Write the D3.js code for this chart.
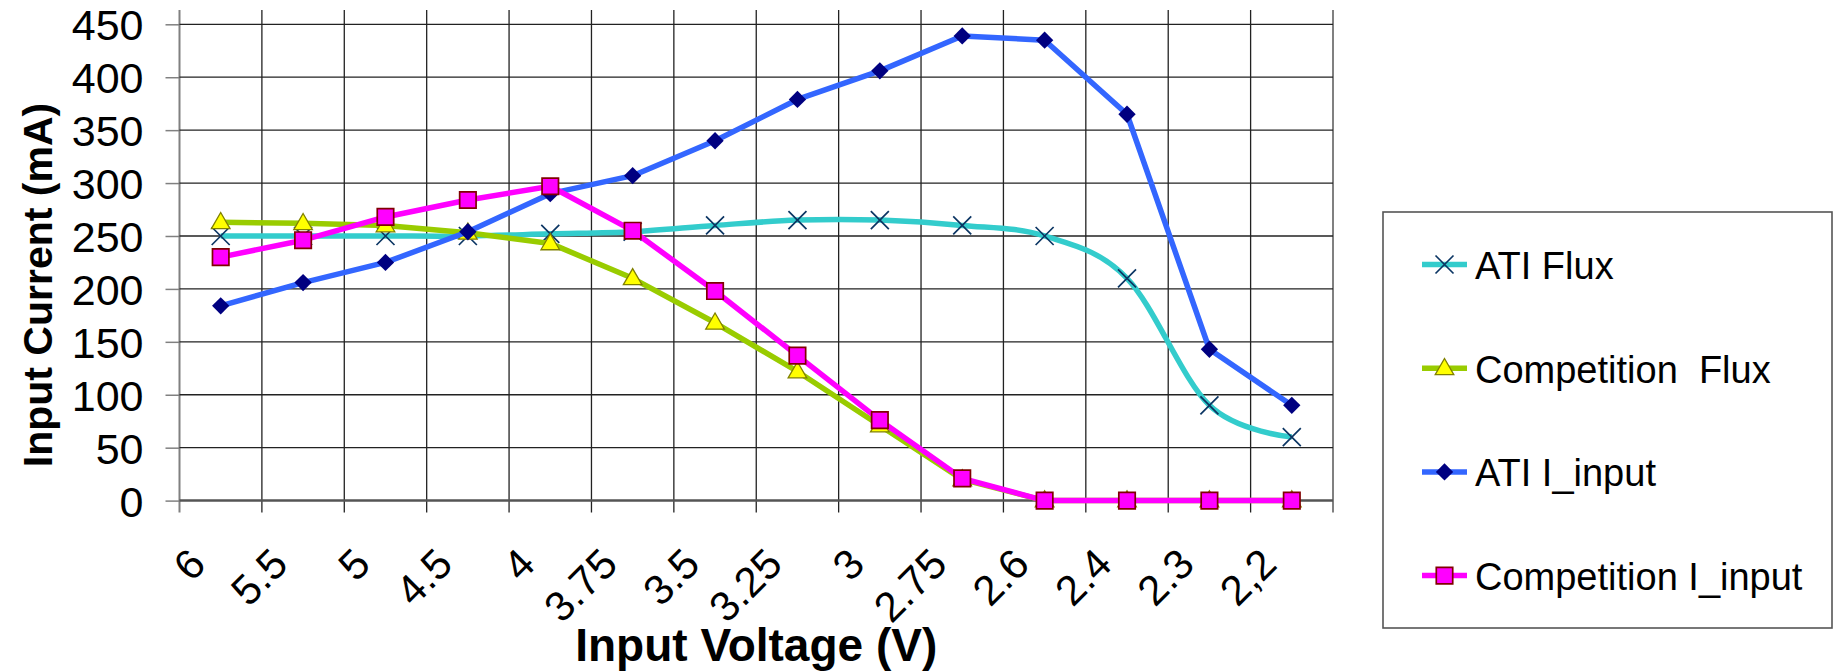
<!DOCTYPE html>
<html>
<head>
<meta charset="utf-8">
<script src="https://cdn.jsdelivr.net/npm/d3@7"></script>
<style>
  body { margin: 0; background: #fff; }
  svg { display: block; font-family: "Liberation Sans", Arial, sans-serif; }
</style>
</head>
<body>
<div id="chartContainer"></div>
<script>
// data
var categories = ["6", "5.5", "5", "4.5", "4", "3.75", "3.5", "3.25", "3", "2.75", "2.6", "2.4", "2.3", "2,2"];
var atiFlux = [250, 250, 250, 250, 252, 254, 260, 265, 265, 260, 250, 210, 90, 60];
var competitionFlux = [263, 262, 260, 253, 243, 210, 168, 122, 71, 20, 0, 0, 0, 0];
var atiInput = [184, 206, 225, 254, 290, 307, 340, 379, 406, 439, 435, 365, 143, 90];
var competitionInput = [230, 246, 268, 284, 297, 255, 198, 137, 76, 21, 0, 0, 0, 0];
var yTicks = [0, 50, 100, 150, 200, 250, 300, 350, 400, 450];
var seriesNames = ["ATI Flux", "Competition  Flux", "ATI I_input", "Competition I_input"];

var WIDTH = 1834, HEIGHT = 671,
  MARGINS = { top: 24.3, right: 501, bottom: 170.4, left: 179.5 };
var plotLeft = MARGINS.left, plotRight = WIDTH - MARGINS.right,
  plotTop = MARGINS.top, plotBottom = HEIGHT - MARGINS.bottom;

var svg = d3.select("#chartContainer").append("svg")
  .attr("width", WIDTH)
  .attr("height", HEIGHT);

var xBand = d3.scaleBand().domain(categories).range([plotLeft, plotRight]).padding(0);
var xEdge = d3.scaleLinear().domain([0, categories.length]).range([plotLeft, plotRight]);
var yRange = d3.scaleLinear().domain([0, 450]).range([plotBottom, plotTop]);
var cx = function (i) { return xBand(categories[i]) + xBand.bandwidth() / 2; };

// vertical grid lines at category edges
svg.append("g").selectAll("line")
  .data(d3.range(0, categories.length + 1))
  .enter().append("line")
  .attr("x1", function (d) { return xEdge(d); })
  .attr("x2", function (d) { return xEdge(d); })
  .attr("y1", 10)
  .attr("y2", plotBottom + 12)
  .attr("stroke", function (d) { return (d === 0 || d === categories.length) ? "#808080" : "#222"; })
  .attr("stroke-width", function (d) { return (d === 0 || d === categories.length) ? 2 : 1.3; });

// y axis ticks + labels
var yAxis = d3.axisLeft(yRange).tickValues(yTicks).tickSize(14).tickPadding(22);
var gy = svg.append("g")
  .attr("transform", "translate(" + plotLeft + ",0)")
  .call(yAxis);
gy.select(".domain").remove();
gy.selectAll(".tick line").attr("stroke", "#808080").attr("stroke-width", 1.5);
gy.selectAll(".tick text")
  .attr("fill", "#000")
  .style("font-size", "43px")
  .attr("dy", "0.36em");

// horizontal grid
svg.append("g").selectAll("line")
  .data(yTicks)
  .enter().append("line")
  .attr("x1", plotLeft)
  .attr("x2", plotRight)
  .attr("y1", function (d) { return yRange(d); })
  .attr("y2", function (d) { return yRange(d); })
  .attr("stroke", function (d) { return d === 0 ? "#555" : "#222"; })
  .attr("stroke-width", function (d) { return d === 0 ? 2.5 : 1.3; });

// x axis labels
var xAxis = d3.axisBottom(xBand).tickSize(0);
var gx = svg.append("g")
  .attr("transform", "translate(0," + plotBottom + ")")
  .call(xAxis);
gx.select(".domain").remove();
gx.selectAll(".tick text")
  .attr("fill", "#000")
  .style("font-size", "42px")
  .attr("text-anchor", "end")
  .attr("dy", null)
  .attr("x", -13)
  .attr("y", 66)
  .attr("transform", "rotate(-45,-13,66)");

// series
var series = [
  { name: seriesNames[0], values: atiFlux, color: "#33CCCC", curve: d3.curveCardinal.tension(0), marker: "x" },
  { name: seriesNames[1], values: competitionFlux, color: "#99CC00", curve: d3.curveLinear, marker: "triangle" },
  { name: seriesNames[2], values: atiInput, color: "#3366FF", curve: d3.curveLinear, marker: "diamond" },
  { name: seriesNames[3], values: competitionInput, color: "#FF00FF", curve: d3.curveLinear, marker: "square" }
];

function drawMarker(g, type) {
  if (type === "x") {
    g.append("path").attr("d", "M-9,-9L9,9M-9,9L9,-9")
      .attr("stroke", "#0B3563").attr("stroke-width", 1.7).attr("fill", "none");
  } else if (type === "triangle") {
    g.append("path").attr("d", d3.symbol(d3.symbolTriangle, 150)())
      .attr("transform", "translate(0,1)")
      .attr("fill", "#FFFF00").attr("stroke", "#808000").attr("stroke-width", 1.3);
  } else if (type === "diamond") {
    g.append("path").attr("d", d3.symbol(d3.symbolSquare, 150)())
      .attr("transform", "rotate(45)")
      .attr("fill", "#000080");
  } else {
    g.append("path").attr("d", d3.symbol(d3.symbolSquare, 270)())
      .attr("fill", "#FF00FF").attr("stroke", "#800000").attr("stroke-width", 1.7);
  }
}

series.forEach(function (s) {
  var lineFunc = d3.line()
    .x(function (d, i) { return cx(i); })
    .y(function (d) { return yRange(d); })
    .curve(s.curve);
  svg.append("path")
    .attr("d", lineFunc(s.values))
    .attr("stroke", s.color)
    .attr("stroke-width", 5.5)
    .attr("stroke-linejoin", "round")
    .attr("fill", "none");
  svg.append("g").selectAll("g")
    .data(s.values)
    .enter().append("g")
    .attr("transform", function (d, i) { return "translate(" + cx(i) + "," + yRange(d) + ")"; })
    .each(function () { drawMarker(d3.select(this), s.marker); });
});

// axis titles
svg.append("text")
  .attr("x", (plotLeft + plotRight) / 2)
  .attr("y", 661)
  .attr("text-anchor", "middle")
  .style("font-size", "46px")
  .style("font-weight", "bold")
  .text("Input Voltage (V)");

svg.append("text")
  .attr("transform", "translate(52,285) rotate(-90)")
  .attr("text-anchor", "middle")
  .style("font-size", "41px")
  .style("font-weight", "bold")
  .text("Input Current (mA)");

// legend
var legend = svg.append("g");
legend.append("rect")
  .attr("x", 1383).attr("y", 212)
  .attr("width", 449).attr("height", 416)
  .attr("fill", "#fff")
  .attr("stroke", "#555")
  .attr("stroke-width", 1.6);

var items = legend.selectAll("g.item")
  .data(series)
  .enter().append("g")
  .attr("class", "item")
  .attr("transform", function (d, i) { return "translate(0," + (279 + i * 103.7) + ")"; });
items.append("line")
  .attr("x1", 1422).attr("x2", 1467)
  .attr("y1", -14.5).attr("y2", -14.5)
  .attr("stroke", function (d) { return d.color; })
  .attr("stroke-width", 5.5);
items.append("g")
  .attr("transform", "translate(1444.5,-14.5)")
  .each(function (d) { drawMarker(d3.select(this), d.marker); });
items.append("text")
  .attr("x", 1475)
  .attr("y", 0)
  .style("font-size", "38px")
  .style("white-space", "pre")
  .text(function (d) { return d.name; });
</script>
</body>
</html>
